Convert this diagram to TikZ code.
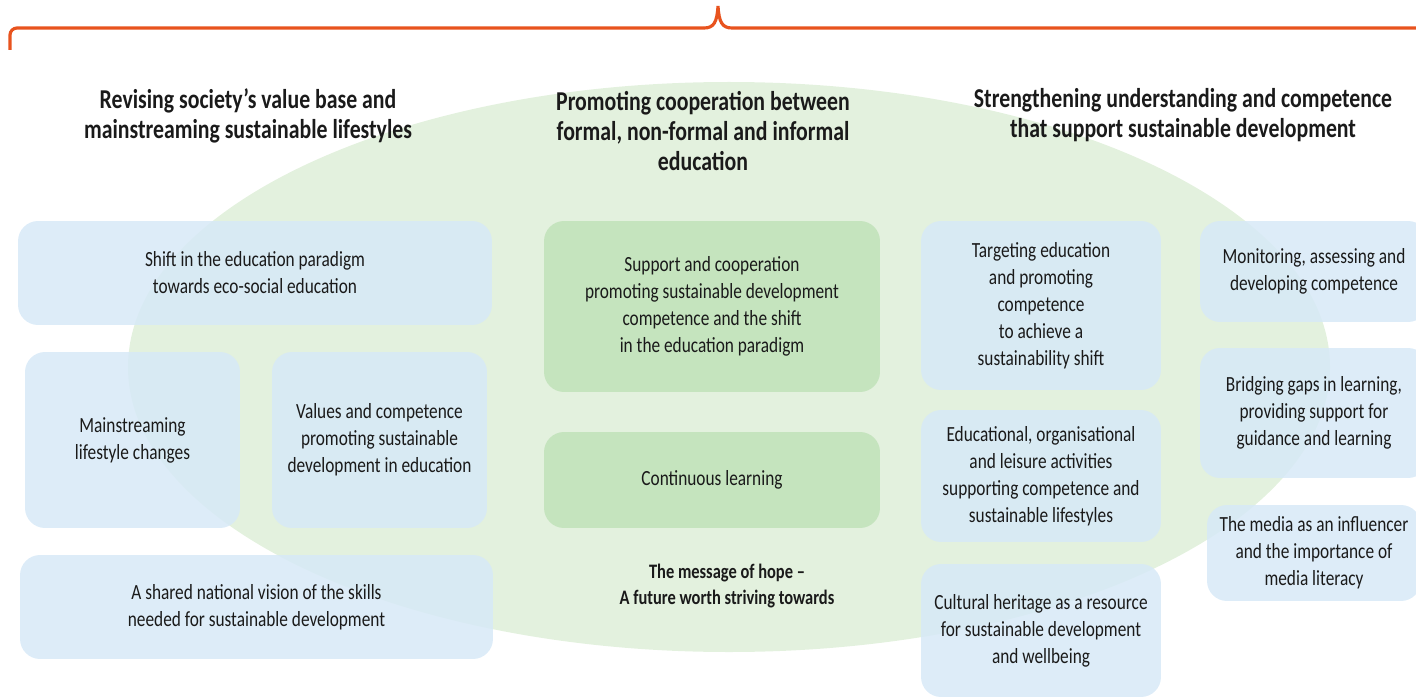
\documentclass[tikz,border=0pt]{standalone}
\usepackage{fontspec}
\setmainfont{Carlito}[FakeStretch=0.8]
\usepackage{tikz}
\definecolor{bracecol}{RGB}{232,83,30}
\definecolor{ovalcol}{RGB}{227,241,222}
\definecolor{boxblue}{RGB}{215,233,247}
\definecolor{boxgreen}{RGB}{197,228,190}
\definecolor{txt}{RGB}{26,26,26}

\begin{document}
\begin{tikzpicture}[x=0.02cm,y=-0.02cm,
	box/.style={rounded corners=0.4cm, inner sep=0pt, align=center, text=txt, font=\fontsize{12.3}{15.3}\selectfont},
	bluebox/.style={box, fill=boxblue, fill opacity=0.85, text opacity=1},
	greenbox/.style={box, fill=boxgreen},
	heading/.style={align=center, text=txt, font=\bfseries\fontsize{15.5}{17}\selectfont}]
	\useasboundingbox (0,0) rectangle (1416,699);
	\clip (0,0) rectangle (1416,699);
	%Brace
	\draw [bracecol, line width=1.8pt, rounded corners=4pt] (10,50) -- (10,28) -- (704,28);
	\draw [bracecol, line width=1.8pt] (704,28) .. controls (714,28) and (717,22) .. (718,6)
		.. controls (719,22) and (722,28) .. (732,28) -- (1420,28);
	%Oval
	\fill [ovalcol] (729,367) ellipse [x radius=601, y radius=285];
	%Headings
	\node [heading] (hleft) at (248,116) {Revising society’s value base and\\mainstreaming sustainable lifestyles};
	\node [heading] (hmid) at (703,131) {Promoting cooperation between\\formal, non-formal and informal\\education};
	\node [heading] (hright) at (1183,115) {Strengthening understanding and competence\\that support sustainable development};
	%Left column
	\node [bluebox, minimum width=9.48cm, minimum height=2.08cm] (shift) at (255,273) {Shift in the education paradigm\\towards eco-social education};
	\node [bluebox, minimum width=4.3cm, minimum height=3.52cm] (lifestyle) at (132.5,440) {Mainstreaming\\lifestyle changes};
	\node [bluebox, minimum width=4.3cm, minimum height=3.52cm] (values) at (379.5,440) {Values and competence\\promoting sustainable\\development in education};
	\node [bluebox, minimum width=9.46cm, minimum height=2.08cm] (vision) at (256.5,607) {A shared national vision of the skills\\needed for sustainable development};
	%Middle column
	\node [greenbox, minimum width=6.72cm, minimum height=3.42cm] (support) at (712,306.5) {Support and cooperation\\promoting sustainable development\\competence and the shift\\in the education paradigm};
	\node [greenbox, minimum width=6.72cm, minimum height=1.92cm] (continuous) at (712,480) {Continuous learning};
	\node [heading, font=\bfseries\fontsize{11.7}{15.3}\selectfont] (hope) at (727,586) {The message of hope –\\A future worth striving towards};
	%Right column
	\node [bluebox, minimum width=4.8cm, minimum height=3.38cm] (targeting) at (1041,305.5) {Targeting education\\and promoting\\competence\\to achieve a\\sustainability shift};
	\node [bluebox, minimum width=4.8cm, minimum height=2.64cm] (activities) at (1041,476) {Educational, organisational\\and leisure activities\\supporting competence and\\sustainable lifestyles};
	\node [bluebox, minimum width=4.8cm, minimum height=2.66cm] (heritage) at (1041,630.5) {Cultural heritage as a resource\\for sustainable development\\and wellbeing};
	\node [bluebox, minimum width=4.56cm, minimum height=2.02cm] (monitoring) at (1314,271.5) {Monitoring, assessing and\\developing competence};
	\node [bluebox, minimum width=4.56cm, minimum height=2.6cm] (bridging) at (1314,413) {Bridging gaps in learning,\\providing support for\\guidance and learning};
	\node [bluebox, minimum width=4.28cm, minimum height=1.92cm] (media) at (1314,553) {The media as an influencer\\and the importance of\\media literacy};
\end{tikzpicture}
\end{document}
